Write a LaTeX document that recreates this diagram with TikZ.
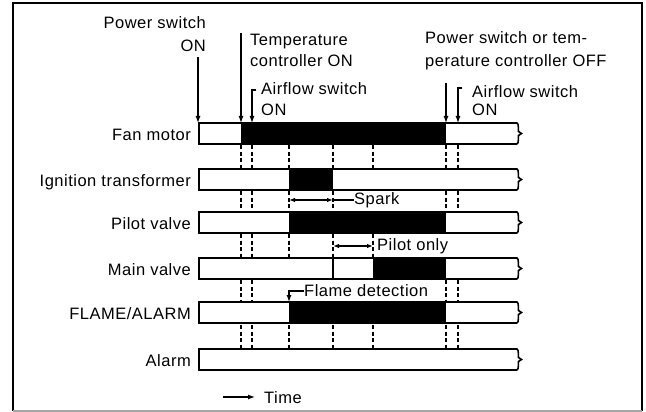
\documentclass[tikz,border=0pt]{standalone}
\usepackage{fontspec}
\setmainfont{Liberation Sans}[LetterSpace=3]
\usetikzlibrary{arrows.meta}
\begin{document}
\begin{tikzpicture}[x=1pt,y=-1pt,
  txt/.style={inner sep=0pt,font=\fontsize{16.5}{19}\selectfont},
  lw/.style={txt,anchor=base west},
  le/.style={txt,anchor=base east},
  barline/.style={line width=1.6pt,line join=miter},
  dsh/.style={line width=1.2pt,dash pattern=on 4pt off 2.5pt},
  arr/.style={line width=1.2pt,-{Latex[length=7pt,width=5pt]}},
  dbl/.style={line width=1.1pt,{Latex[length=6pt,width=4.5pt]}-{Latex[length=6pt,width=4.5pt]}}]
\useasboundingbox (0,0) rectangle (646,412);
% frame
\draw[line width=1.8pt] (13,411) -- (13,3) -- (642,3) -- (642,411);
\draw[line width=1.2pt,black!35] (13,411) -- (642,411);
% fills
\fill (241,123) rectangle (446,144);
\fill (289,169) rectangle (333,190);
\fill (289,212) rectangle (446,233);
\fill (373,258) rectangle (446,279);
\fill (289,302) rectangle (446,323);
% bars
\foreach \t in {123,169,212,258,302,349}{
  \draw[barline] (517,\t+21) -- (199,\t+21) -- (199,\t) -- (517,\t)
     .. controls (519,\t+1) and (518,\t+6) .. (518.5,\t+8.5)
     -- (521.5,\t+10.5) -- (518.5,\t+12.5)
     .. controls (518,\t+15) and (519,\t+20) .. (517,\t+21);
}
\draw[line width=1.4pt] (333,258) -- (333,279);
% labels
\node[le] (fan) at (191,140) {Fan motor};
\node[le] (ign) at (191,186) {Ignition transformer};
\node[le] (pil) at (191,229) {Pilot valve};
\node[le] (mai) at (191,275) {Main valve};
\node[le] (fla) at (191,319) {FLAME/ALARM};
\node[le] (ala) at (191,366) {Alarm};
% top labels
\node[le] (ps1) at (206,29) {Power switch};
\node[le] (ps2) at (206,52) {ON};
\node[lw] (tc1) at (250,46) {Temperature};
\node[lw] (tc2) at (250,67) {controller ON};
\node[lw] (af1) at (261,95) {Airflow switch};
\node[lw] (af2) at (261,115) {ON};
\node[lw] (of1) at (425,44) {Power switch or tem-};
\node[lw] (of2) at (425,67) {perature controller OFF};
\node[lw] (af3) at (472,98) {Airflow switch};
\node[lw] (af4) at (472,115) {ON};
% arrows at top
\coordinate (a1s) at (198,57); \coordinate (a1e) at (198,123);
\coordinate (a2s) at (241,33); \coordinate (a2e) at (241,123);
\coordinate (a3s) at (256,90); \coordinate (a3e) at (252,123);
\coordinate (a4s) at (446,83); \coordinate (a4e) at (446,123);
\coordinate (a5s) at (462,88); \coordinate (a5e) at (458,123);
\draw[arr] (a1s) -- (a1e);
\draw[arr] (a2s) -- (a2e);
\draw[arr] (a3s) -- (a3s -| a3e) -- (a3e);
\draw[arr] (a4s) -- (a4e);
\draw[arr] (a5s) -- (a5s -| a5e) -- (a5e);
% dashed guides
\foreach \x in {241,252,289,333,373,446,458} \draw[dsh] (\x,145) -- (\x,168);
\foreach \x in {241,252,289,333,446,458} \draw[dsh] (\x,191) -- (\x,211);
\foreach \x in {241,252,289,333,373} \draw[dsh] (\x,234) -- (\x,257);
\foreach \x in {241,252,446,458} \draw[dsh] (\x,280) -- (\x,301);
\foreach \x in {241,252,289,333,373,446,458} \draw[dsh] (\x,325) -- (\x,348);
% spark
\coordinate (sp1) at (289,200); \coordinate (sp2) at (333,200);
\node[txt,anchor=west] (spk) at (354,200) {Spark};
\draw[dbl] (sp1) -- (sp2);
\draw[line width=1.1pt] (sp2) -- (spk.west);
% pilot only
\coordinate (po1) at (333,246); \coordinate (po2) at (373,246);
\node[txt,anchor=west] (pon) at (377,246) {Pilot only};
\draw[dbl] (po1) -- (po2);
% flame detection
\node[txt,anchor=west] (fd) at (304,291) {Flame detection};
\coordinate (fde) at (289,302);
\draw[arr] (fd.west) -- (fd.west -| fde) -- (fde);
% time
\node[lw] (tim) at (264,403) {Time};
\coordinate (t1) at (223,397); \coordinate (t2) at (255,397);
\draw[arr] (t1) -- (t2);
\end{tikzpicture}
\end{document}
